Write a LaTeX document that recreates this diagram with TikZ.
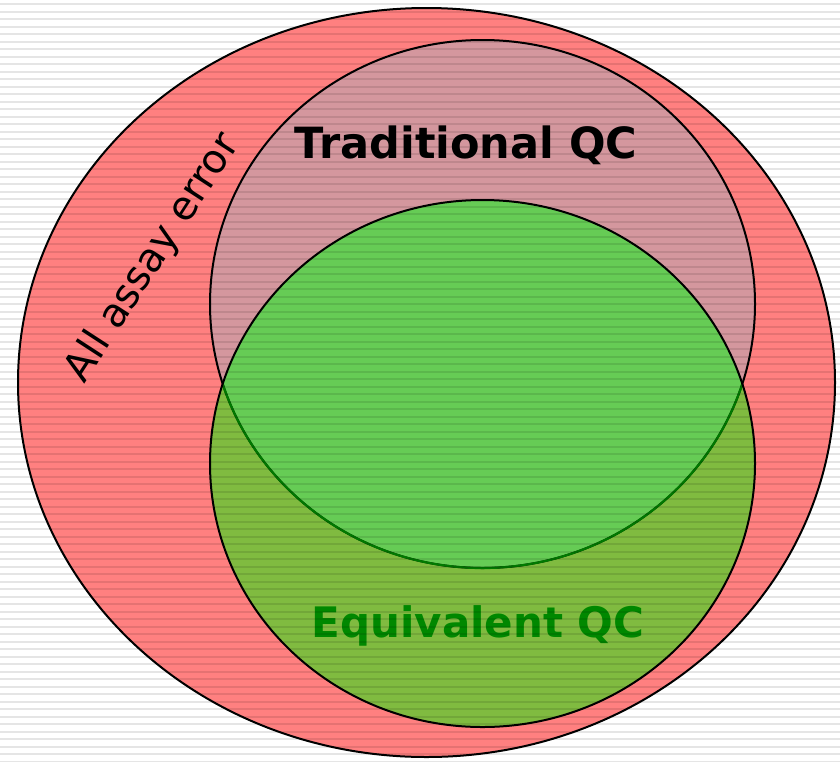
\documentclass[tikz,border=0pt]{standalone}
\usepackage{fontspec}
\setmainfont{DejaVu Sans}
\definecolor{errred}{HTML}{FF8080}
\definecolor{tradpink}{HTML}{D4979E}
\definecolor{eqolive}{HTML}{80BB40}
\definecolor{eqgreen}{HTML}{66CC55}
\definecolor{eqtext}{HTML}{008800}
\definecolor{arcgreen}{HTML}{007A00}
\begin{document}
\begin{tikzpicture}[x=1pt,y=-1pt,
  outline/.style={draw=black,line width=2pt},
  labelbold/.style={font=\bfseries\fontsize{43}{48}\selectfont}]
\useasboundingbox (0,0) rectangle (840,761);
\fill[white] (0,0) rectangle (840,761);

% the three sets
\coordinate (allc) at (426.5,382.5);
\coordinate (tradc) at (482.5,304);
\coordinate (eqc) at (482.5,463.5);
\def\allpath{(allc) ellipse [x radius=408.5, y radius=374.5]}
\def\tradpath{(tradc) ellipse [x radius=272.5, y radius=264]}
\def\eqpath{(eqc) ellipse [x radius=272.5, y radius=263.5]}

\fill[errred] \allpath;
\fill[tradpink] \tradpath;
\fill[eqolive] \eqpath;
\begin{scope}
  \clip \tradpath;
  \fill[eqgreen] \eqpath;
\end{scope}

% outlines
\draw[outline] \allpath;
\draw[outline] \tradpath;
\begin{scope}
  \clip \eqpath;
  \draw[draw=arcgreen,line width=2.2pt] \tradpath;
\end{scope}
\draw[outline] \eqpath;

% labels
\node[labelbold] (trad) at (466,145) {Traditional QC};
\node[labelbold,font=\bfseries\fontsize{42}{46}\selectfont,text=eqtext] (eq) at (478,626) {Equivalent QC};
\node[font=\fontsize{40}{44}\selectfont,rotate=57,inner sep=0pt] (all) at (153,258) {All assay error};

% horizontal ruling over the whole sheet
\foreach \k in {0,...,102} {
  \fill[black,opacity=0.1] (0,{3+7.5*\k}) rectangle (840,{5+7.5*\k});
}
\end{tikzpicture}
\end{document}
